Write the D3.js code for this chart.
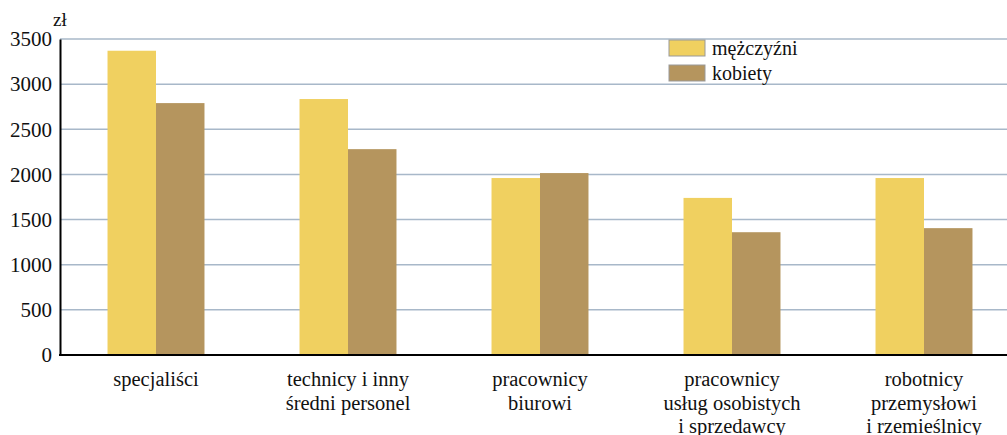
<!doctype html>
<html>
<head>
<meta charset="utf-8">
<title>Wynagrodzenia</title>
<style>
  body { margin: 0; background: #fff; }
  svg text { font-family: "Liberation Serif", Tinos, "Times New Roman", Times, "DejaVu Serif", serif; fill: #111; }
</style>
</head>
<body>
<div id="chart"></div>
<script src="https://cdn.jsdelivr.net/npm/d3@7"></script>
<script>
// dane
var categories = [
  ["specjaliści"],
  ["technicy i inny", "średni personel"],
  ["pracownicy", "biurowi"],
  ["pracownicy", "usług osobistych", "i sprzedawcy"],
  ["robotnicy", "przemysłowi", "i rzemieślnicy"]
];
var men = [3370, 2835, 1960, 1740, 1960];
var women = [2790, 2280, 2015, 1360, 1405];
var seriesNames = ["mężczyźni", "kobiety"];
var seriesColors = ["#f0d060", "#b5955e"];
var yTicks = [0, 500, 1000, 1500, 2000, 2500, 3000, 3500];

var fontFam = '"Liberation Serif", Tinos, "Times New Roman", Times, "DejaVu Serif", serif';
var width = 1007, height = 435;
var margin = {top: 39, right: 0, bottom: 80, left: 60};

var svg = d3.select("#chart").append("svg")
  .attr("width", width).attr("height", height);

var x = d3.scaleBand()
  .domain(d3.range(categories.length))
  .range([margin.left, margin.left + 192 * categories.length])
  .paddingInner(0.495).paddingOuter(0.2475);

var xs = d3.scaleBand().domain([0, 1]).range([0, x.bandwidth()]);

var y = d3.scaleLinear().domain([0, 3500]).range([height - margin.bottom, margin.top]);

// linie siatki
svg.append("g").selectAll("line")
  .data(yTicks.slice(1))
  .enter().append("line")
  .attr("x1", margin.left).attr("x2", width)
  .attr("y1", function(d) { return y(d); })
  .attr("y2", function(d) { return y(d); })
  .attr("stroke", "#a8b8c9")
  .attr("stroke-width", 1.5);

// słupki
var data = categories.map(function(c, i) { return [men[i], women[i]]; });
var groups = svg.append("g").selectAll("g")
  .data(data).enter().append("g")
  .attr("transform", function(d, i) { return "translate(" + x(i) + ",0)"; });

groups.selectAll("rect")
  .data(function(d) { return d; })
  .enter().append("rect")
  .attr("x", function(d, j) { return xs(j); })
  .attr("width", xs.bandwidth())
  .attr("y", function(d) { return y(d); })
  .attr("height", function(d) { return y(0) - y(d); })
  .attr("fill", function(d, j) { return seriesColors[j]; });

// oś Y
var yAxis = svg.append("g")
  .attr("transform", "translate(" + margin.left + ",0)")
  .call(d3.axisLeft(y).tickValues(yTicks).tickFormat(d3.format("d")).tickSize(0).tickPadding(8));
yAxis.attr("font-family", fontFam);
yAxis.select(".domain").attr("stroke", "#000").attr("stroke-width", 2);
yAxis.selectAll("text").attr("font-size", 21).style("font-family", fontFam).attr("fill", "#111");

// oś X
svg.append("line")
  .attr("x1", margin.left - 1).attr("x2", width)
  .attr("y1", y(0)).attr("y2", y(0))
  .attr("stroke", "#000").attr("stroke-width", 2);

// etykiety kategorii
svg.append("g").selectAll("text")
  .data(categories).enter().append("text")
  .attr("text-anchor", "middle")
  .attr("font-size", 20.5)
  .attr("x", function(d, i) { return x(i) + x.bandwidth() / 2; })
  .attr("y", y(0) + 31)
  .selectAll("tspan")
  .data(function(d) { return d; })
  .enter().append("tspan")
  .attr("x", function() { return this.parentNode.getAttribute("x"); })
  .attr("dy", function(d, k) { return k === 0 ? 0 : 23.5; })
  .text(function(d) { return d; });

// jednostka
svg.append("text")
  .attr("x", 53).attr("y", 26)
  .attr("font-size", 19)
  .text("zł");

// legenda
var legend = svg.append("g").selectAll("g")
  .data(seriesNames).enter().append("g")
  .attr("transform", function(d, i) { return "translate(669," + (40 + i * 25) + ")"; });
legend.append("rect")
  .attr("width", 36).attr("height", 16)
  .attr("fill", function(d, i) { return seriesColors[i]; })
  .attr("stroke", "#999").attr("stroke-width", 1);
legend.append("text")
  .attr("x", 43).attr("y", 15)
  .attr("font-size", 20)
  .text(function(d) { return d; });
</script>
</body>
</html>
